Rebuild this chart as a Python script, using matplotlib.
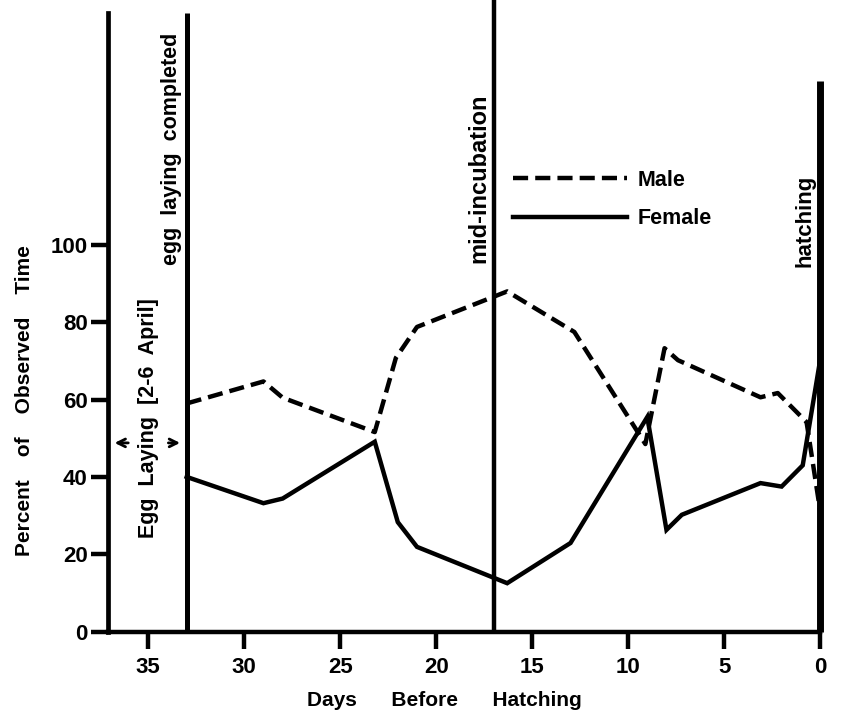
import matplotlib
matplotlib.use("Agg")
import matplotlib.pyplot as plt

plt.rcParams['font.family'] = ['Liberation Sans', 'DejaVu Sans']
plt.rcParams['font.weight'] = 'bold'

# days before hatching, percent of observed time
male_days = [33, 29, 28, 23.2, 22.1, 21, 16.3, 12.8, 9.1, 8.1, 7.4, 3.1, 2.2, 0.7, 0]
male_pct = [59, 64.7, 60.5, 51.6, 70.8, 78.8, 88, 77.5, 48.5, 73.3, 70.2, 60.6, 61.7, 54.2, 31.5]

female_days = [33, 29, 28, 23.2, 22, 21, 16.3, 13, 9, 8, 7.2, 3.1, 2, 0.9, 0]
female_pct = [40, 33.2, 34.4, 49.1, 28.3, 21.9, 12.5, 22.9, 55.5, 26.3, 30.2, 38.4, 37.5, 43, 70]

x_ticks = [35, 30, 25, 20, 15, 10, 5, 0]
y_ticks = [0, 20, 40, 60, 80, 100]

# event markers (days before hatching)
start_day = 37.1
egg_done = 33
mid_inc = 17
hatch = 0

fig = plt.figure(figsize=(8.43, 7.11), dpi=100)
ax = fig.add_axes([108 / 843, 79.5 / 711, 712 / 843, 631.5 / 711])
ax.set_xlim(start_day, 0)
ax.set_ylim(0, 163.4)

for s in ['top', 'right']:
    ax.spines[s].set_visible(False)
ax.spines['left'].set_bounds(0, 160)
ax.spines['left'].set_linewidth(3.4)
ax.spines['bottom'].set_linewidth(3.2)

ax.set_xticks(x_ticks)
ax.set_yticks(y_ticks)
ax.tick_params(axis='both', length=12.5, width=3.2, direction='out', labelsize=16)
ax.tick_params(axis='x', pad=6)
ax.tick_params(axis='y', pad=2)

# event lines
ax.vlines(egg_done, 0, 160, color='black', lw=3.6)
ax.vlines(mid_inc, 0, 163.4, color='black', lw=3.2)
ax.vlines(hatch, 0, 142.5, color='black', lw=5, clip_on=False)

ax.plot(male_days, male_pct, color='black', lw=3.2, dashes=(3.4, 1.6),
        dash_capstyle='butt', label='Male', clip_on=False)
ax.plot(female_days, female_pct, color='black', lw=3.2, label='Female',
        solid_joinstyle='miter', clip_on=False)

# egg laying arrows
ax.annotate('', xy=(start_day - 0.2, 48.8), xytext=(start_day - 1.2, 48.8),
            arrowprops=dict(arrowstyle='->', lw=2, mutation_scale=14))
ax.annotate('', xy=(egg_done + 0.2, 48.8), xytext=(egg_done + 1.1, 48.8),
            arrowprops=dict(arrowstyle='->', lw=2, mutation_scale=14))

ax.text(35.0, 24.2, 'Egg  Laying  [2-6  April]', rotation=90, ha='center', va='bottom',
        fontsize=15.5)
ax.text(egg_done + 0.25, 154.9, 'egg  laying  completed', rotation=90, ha='right',
        va='top', fontsize=15.5)
ax.text(mid_inc + 0.2, 95.3, 'mid-incubation', rotation=90, ha='right', va='bottom',
        fontsize=17)
ax.text(hatch + 0.25, 94.3, 'hatching', rotation=90, ha='right', va='bottom',
        fontsize=16)

ax.legend(loc='center left', bbox_to_anchor=(513 / 843, 511.5 / 711),
          bbox_transform=fig.transFigure, frameon=False, fontsize=15.5,
          handlelength=5.3, handletextpad=0.5, labelspacing=0.8,
          borderpad=0, borderaxespad=0)

fig.text(444 / 843, 10 / 711, 'Days      Before      Hatching', ha='center', va='center',
         fontsize=15)
fig.text(25 / 843, 310 / 711, 'Percent    of    Observed    Time', rotation=90,
         ha='center', va='center', fontsize=15)

plt.savefig('out.png', dpi=100)
